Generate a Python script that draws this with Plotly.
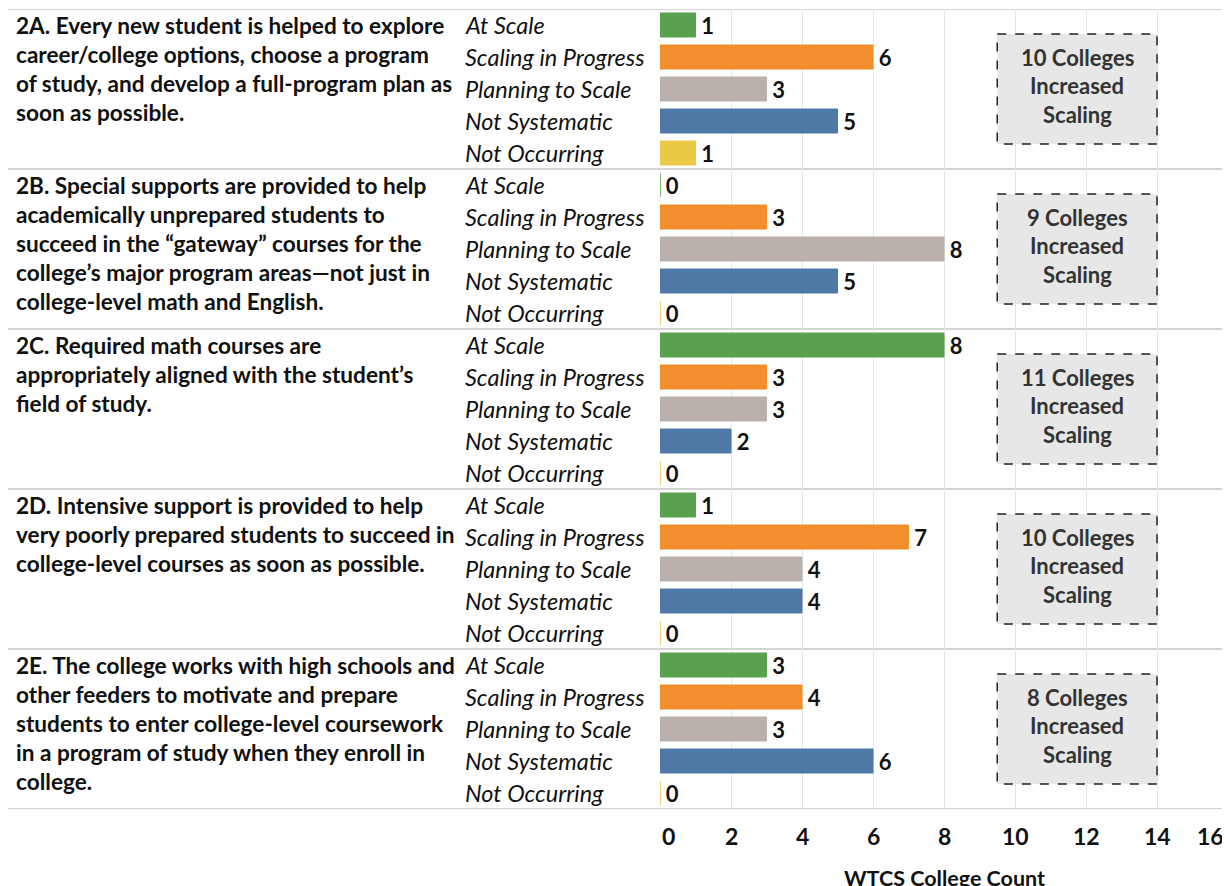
import plotly.graph_objects as go

# ---- data ----
group_titles = [
    ["2A. Every new student is helped to explore",
     "career/college options, choose a program",
     "of study, and develop a full-program plan as",
     "soon as possible."],
    ["2B. Special supports are provided to help",
     "academically unprepared students to",
     "succeed in the \u201cgateway\u201d courses for the",
     "college\u2019s major program areas\u2014not just in",
     "college-level math and English."],
    ["2C. Required math courses are",
     "appropriately aligned with the student\u2019s",
     "field of study."],
    ["2D. Intensive support is provided to help",
     "very poorly prepared students to succeed in",
     "college-level courses as soon as possible."],
    ["2E. The college works with high schools and",
     "other feeders to motivate and prepare",
     "students to enter college-level coursework",
     "in a program of study when they enroll in",
     "college."],
]
categories = ["At Scale", "Scaling in Progress", "Planning to Scale",
              "Not Systematic", "Not Occurring"]
at_scale = [1, 0, 8, 1, 3]
scaling_in_progress = [6, 3, 3, 7, 4]
planning_to_scale = [3, 8, 3, 4, 3]
not_systematic = [5, 5, 2, 4, 6]
not_occurring = [1, 0, 0, 0, 0]
colleges_increased = [10, 9, 11, 10, 8]
x_ticks = [0, 2, 4, 6, 8, 10, 12, 14, 16]

series = [at_scale, scaling_in_progress, planning_to_scale, not_systematic, not_occurring]
colors = ["#59A14F", "#F28E2B", "#BAB0AC", "#4E79A7", "#EDC948"]

FONT = "Lato"
n_cat = len(categories)
n_grp = len(group_titles)

# page offset of the figure (body margin)
OFF = 8
# figure geometry (pixels)
W, H = 1230 - OFF, 886 - OFF
ML, MR, MT, MB = 660 - OFF, 2, 9 - OFF, 77
PW = W - ML - MR

def px_to_paper(page_px):
    return (page_px - OFF - ML) / PW

fig = go.Figure()
for ci, (cat, vals, col) in enumerate(zip(categories, series, colors)):
    ys = [g * n_cat + ci for g in range(n_grp)]
    fig.add_trace(go.Bar(
        x=vals, y=ys, orientation="h", width=0.75,
        marker=dict(color=col, line=dict(color=col, width=1)),
        text=["\u2009" + str(v) for v in vals], textposition="outside",
        constraintext="none",
        textfont=dict(family=FONT, size=22, color="#111111", weight="bold"),
        cliponaxis=False, name=cat, showlegend=False, hoverinfo="x+name",
    ))

annotations = []
shapes = []

# category labels
for g in range(n_grp):
    for ci, cat in enumerate(categories):
        annotations.append(dict(
            x=px_to_paper(463), xref="paper", y=g * n_cat + ci, yref="y",
            text="<i>" + cat + "</i>", showarrow=False, xanchor="left", yanchor="middle",
            font=dict(family=FONT, size=23.5, color="#111111"),
        ))

# group titles (line by line)
for g, lines in enumerate(group_titles):
    for li, line in enumerate(lines):
        annotations.append(dict(
            x=px_to_paper(14), xref="paper", y=g * n_cat - 0.5, yref="y",
            text="<b>" + line + "</b>", showarrow=False, xanchor="left", yanchor="middle",
            yshift=-(16 + 29 * li),
            font=dict(family=FONT, size=22.6, color="#111111"),
        ))

# separators
for g in range(n_grp + 1):
    shapes.append(dict(
        type="line", xref="paper", x0=px_to_paper(5), x1=1, yref="y",
        y0=g * n_cat - 0.5, y1=g * n_cat - 0.5,
        line=dict(color="#d4d4d4", width=2), layer="below",
    ))

# summary boxes
for g, n in enumerate(colleges_increased):
    yc = g * n_cat + (n_cat - 1) / 2
    shapes.append(dict(
        type="rect", xref="x", yref="y", x0=9.5, x1=14.0,
        y0=yc - 1.72, y1=yc + 1.72,
        fillcolor="#e7e7e7", line=dict(color="#222222", width=1.5, dash="dash"),
        layer="above",
    ))
    for li, (txt, sh) in enumerate(zip([f"{n} Colleges", "Increased", "Scaling"], [32, 4, -25])):
        annotations.append(dict(
            x=11.75, xref="x", y=yc, yref="y", text="<b>" + txt + "</b>",
            showarrow=False, xanchor="center", yanchor="middle", yshift=sh,
            font=dict(family=FONT, size=22, color="#333333"),
        ))

# x tick labels
for t in x_ticks:
    xs = 8 if t == x_ticks[0] else (-18 if t == x_ticks[-1] else 0)
    annotations.append(dict(
        x=t, xref="x", y=0, yref="paper", text="<b>" + str(t) + "</b>",
        showarrow=False, xanchor="center", yanchor="middle", yshift=-27, xshift=xs,
        font=dict(family=FONT, size=23, color="#111111"),
    ))

# axis title
annotations.append(dict(
    x=(x_ticks[0] + x_ticks[-1]) / 2, xref="x", y=0, yref="paper",
    text="<b>WTCS College Count</b>", showarrow=False, xanchor="center",
    yanchor="middle", yshift=-69,
    font=dict(family=FONT, size=21.5, color="#111111"),
))

fig.update_layout(
    width=W, height=H,
    margin=dict(l=ML, r=MR, t=MT, b=MB),
    plot_bgcolor="white", paper_bgcolor="white",
    barmode="overlay",
    xaxis=dict(range=[x_ticks[0], x_ticks[-1]], tickvals=x_ticks, showticklabels=False,
               showgrid=True, gridcolor="#e4e4e4", gridwidth=1, zeroline=False,
               showline=False, fixedrange=True),
    yaxis=dict(range=[n_grp * n_cat - 0.5, -0.5], showticklabels=False, showgrid=False,
               zeroline=False, showline=False, fixedrange=True),
    annotations=annotations, shapes=shapes,
    font=dict(family=FONT),
)

fig.write_html("out.html")
